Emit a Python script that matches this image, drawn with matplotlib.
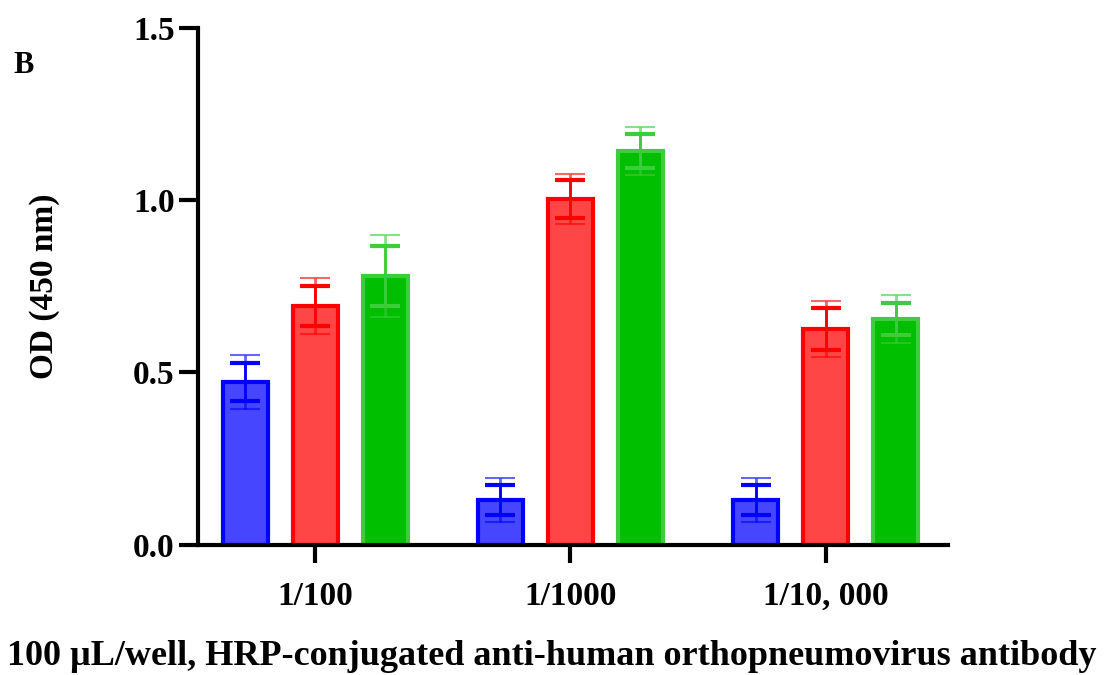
import numpy as np
import matplotlib
matplotlib.use('Agg')
import matplotlib.pyplot as plt

plt.rcParams['font.family'] = ['Liberation Serif', 'DejaVu Serif']
plt.rcParams['font.weight'] = 'bold'

dilutions = ['1/100', '1/1000', '1/10, 000']
# three series per dilution (blue, red, green)
blue = [0.473, 0.130, 0.130]
red = [0.693, 1.003, 0.626]
green = [0.780, 1.143, 0.655]
# two error sets per bar (outer and inner caps)
blue_err_outer = [0.078, 0.064, 0.064]
blue_err_inner = [0.055, 0.044, 0.044]
red_err_outer = [0.081, 0.072, 0.082]
red_err_inner = [0.058, 0.055, 0.060]
green_err_outer = [0.120, 0.071, 0.070]
green_err_inner = [0.087, 0.050, 0.047]

fig = plt.figure(figsize=(11.07, 6.75), dpi=100)
ax = fig.add_axes([0.179, 0.193, 0.677, 0.7655])

x = np.arange(len(dilutions))
off = 0.274
w = 0.176

series = [
    (blue, blue_err_outer, blue_err_inner, '#4646ff', '#0000ff', -off),
    (red, red_err_outer, red_err_inner, '#ff4646', '#ff0000', 0),
    (green, green_err_outer, green_err_inner, '#00bf00', '#3ccc3c', off),
]

for vals, eo, ei, fc, ec, dx in series:
    ax.bar(x + dx, vals, width=w, color=fc, edgecolor=ec, linewidth=3, zorder=2)
    ax.errorbar(x + dx, vals, yerr=eo, fmt='none', ecolor=ec, elinewidth=2,
                capsize=11, capthick=1.5, alpha=0.6, zorder=3)
    ax.errorbar(x + dx, vals, yerr=ei, fmt='none', ecolor=ec, elinewidth=2,
                capsize=11, capthick=3, zorder=3)

ax.set_xlim(-0.458, 2.477)
ax.set_ylim(0, 1.5)
ax.set_yticks([0, 0.5, 1.0, 1.5])
ax.set_yticklabels(['0.0', '0.5', '1.0', '1.5'])
ax.set_xticks(x)
ax.set_xticklabels(dilutions)
ax.spines['top'].set_visible(False)
ax.spines['right'].set_visible(False)
ax.spines['left'].set_linewidth(3)
ax.spines['bottom'].set_linewidth(3)
ax.tick_params(axis='y', length=14, width=3, labelsize=24, pad=3)
ax.tick_params(axis='x', length=13, width=3, labelsize=24, pad=13)
for lab in ax.get_xticklabels() + ax.get_yticklabels():
    lab.set_fontweight('bold')

ax.set_ylabel('OD (450 nm)', fontsize=24, fontweight='bold')
ax.yaxis.set_label_coords(-0.185, 0.5)
ax.set_xlabel('100 µL/well, HRP-conjugated anti-human orthopneumovirus antibody',
              fontsize=26, fontweight='bold')
ax.xaxis.set_label_coords(0.472, -0.184)
fig.text(0.012, 0.892, 'B', fontsize=22, fontweight='bold')

fig.savefig('out.png', dpi=100)
